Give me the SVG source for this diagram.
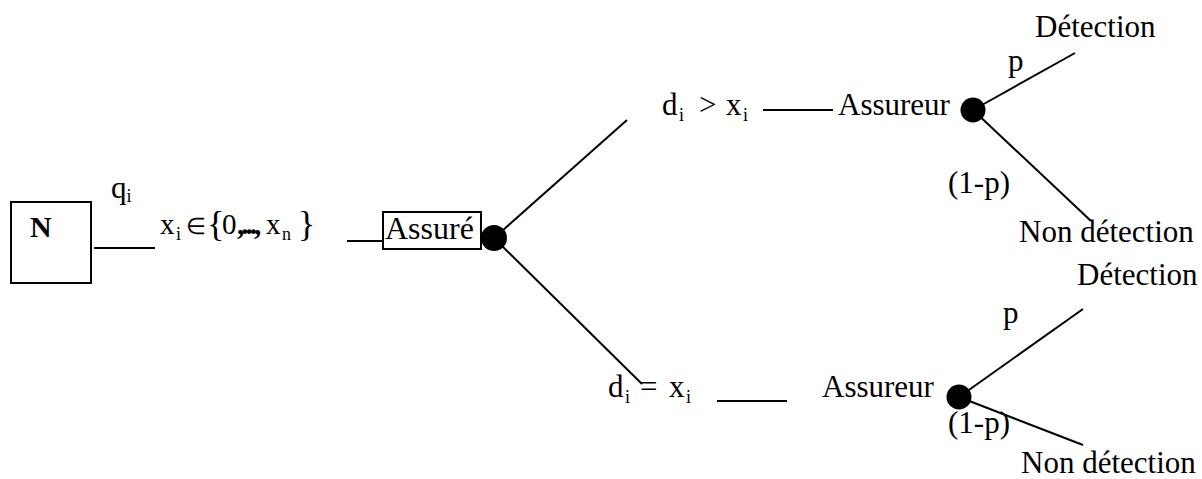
<svg xmlns="http://www.w3.org/2000/svg" width="1202" height="479" viewBox="0 0 1202 479">
<style>
text{font-family:"Liberation Serif","Times New Roman",serif;font-size:31px;fill:#000}
.sub{font-size:18px}
.eq{font-size:29px}
.ln{stroke:#000;stroke-width:2;fill:none}
.box{stroke:#000;stroke-width:2;fill:#fff}
.dot{fill:#000}
</style>
<rect width="1202" height="479" fill="#fff"/>
<g id="connectors">
<line class="ln" x1="94" y1="248" x2="155" y2="248"/>
<line class="ln" x1="347" y1="241" x2="383" y2="241"/>
<line class="ln" x1="494" y1="238" x2="627" y2="120"/>
<line class="ln" x1="494" y1="238" x2="642" y2="384"/>
<line class="ln" x1="763" y1="110" x2="833" y2="110"/>
<line class="ln" x1="717" y1="401" x2="787" y2="401"/>
<line class="ln" x1="973" y1="110" x2="1075" y2="53"/>
<line class="ln" x1="973" y1="110" x2="1091" y2="221"/>
<line class="ln" x1="959" y1="397" x2="1083" y2="309"/>
<line class="ln" x1="959" y1="397" x2="1083" y2="445"/>
</g>
<g id="node-N">
<rect class="box" x="11" y="202" width="80" height="81"/>
<text x="30" y="237" style="font-weight:bold;font-size:30px">N</text>
</g>
<g id="label-qi">
<text x="111" y="198">q<tspan class="sub" dy="4">i</tspan></text>
</g>
<g id="label-xi">
<text class="eq" x="160" y="234">x<tspan class="sub" x="176" y="240">i</tspan><tspan x="186" y="234" style="font-size:23px">∈</tspan><tspan x="207" y="236" style="font-size:36px">{</tspan><tspan x="222" y="234">0</tspan><tspan x="237" y="234" style="font-weight:bold;letter-spacing:-3px">,...,</tspan><tspan x="266" y="234">x</tspan><tspan class="sub" x="282" y="240">n</tspan><tspan x="298" y="236" style="font-size:36px">}</tspan></text>
</g>
<g id="node-assure">
<rect x="383" y="212" width="98" height="37" fill="none" stroke="#000" stroke-width="2"/>
<text x="385" y="239" style="font-size:32px">Assuré</text>
<circle class="dot" cx="494" cy="238" r="13"/>
</g>
<g id="label-top">
<text x="662" y="115">d<tspan class="sub" x="679" y="121">i</tspan><tspan x="699" y="115">&gt;</tspan><tspan x="726" y="115">x</tspan><tspan class="sub" x="743" y="121">i</tspan></text>
</g>
<g id="node-assureur-top">
<text x="838" y="115">Assureur</text>
<circle class="dot" cx="973" cy="110" r="12.5"/>
</g>
<g id="leaves-top">
<text x="1035" y="37">Détection</text>
<text x="1008" y="71">p</text>
<text x="948" y="193">(1-p)</text>
<text x="1019" y="242">Non détection</text>
</g>
<g id="label-bottom">
<text x="608" y="397">d<tspan class="sub" x="625" y="403">i</tspan><tspan x="640" y="397">=</tspan><tspan x="669" y="397">x</tspan><tspan class="sub" x="686" y="403">i</tspan></text>
</g>
<g id="node-assureur-bottom">
<text x="822" y="397">Assureur</text>
<circle class="dot" cx="959" cy="397" r="12.5"/>
</g>
<g id="leaves-bottom">
<text x="1077" y="285">Détection</text>
<text x="1003" y="323">p</text>
<text x="948" y="433">(1-p)</text>
<text x="1021" y="473">Non détection</text>
</g>
</svg>
